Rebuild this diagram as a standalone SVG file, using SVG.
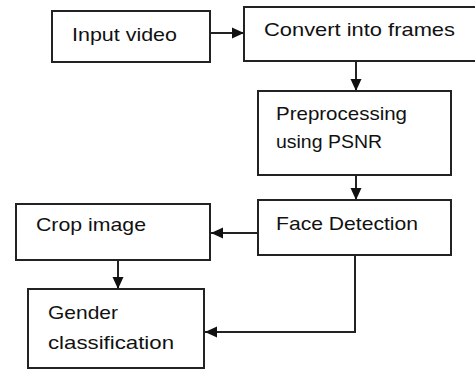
<svg xmlns="http://www.w3.org/2000/svg" width="475" height="369" viewBox="0 0 475 369">
<style>
.box{fill:#fff;stroke:#222;stroke-width:2}
.lbl{font-family:"Liberation Sans",Arial,sans-serif;font-size:19px;fill:#111}
.con{fill:none;stroke:#222;stroke-width:2}
</style>
<defs>
<marker id="ah" markerUnits="userSpaceOnUse" markerWidth="14" markerHeight="14" viewBox="0 0 14 14" refX="13" refY="7" orient="auto">
<path d="M1,1.5 L13,7 L1,12.5 Z" fill="#111"/>
</marker>
</defs>
<rect width="475" height="369" fill="#fff"/>
<g id="connectors">
<line class="con" x1="210" y1="33" x2="244" y2="33" marker-end="url(#ah)"/>
<line class="con" x1="356" y1="62" x2="356" y2="91" marker-end="url(#ah)"/>
<line class="con" x1="356" y1="175" x2="356" y2="200" marker-end="url(#ah)"/>
<line class="con" x1="258" y1="233" x2="211" y2="233" marker-end="url(#ah)"/>
<line class="con" x1="118" y1="260" x2="118" y2="289" marker-end="url(#ah)"/>
<polyline class="con" points="355,255 355,332 205,332" marker-end="url(#ah)"/>
</g>
<g id="input-video">
<rect class="box" x="52" y="11" width="158" height="51"/>
<text class="lbl" x="72" y="41" textLength="105" lengthAdjust="spacingAndGlyphs">Input video</text>
</g>
<g id="convert-frames">
<rect class="box" x="244" y="7" width="240" height="54"/>
<text class="lbl" x="264" y="36" textLength="191" lengthAdjust="spacingAndGlyphs">Convert into frames</text>
</g>
<g id="preprocessing">
<rect class="box" x="258" y="91" width="193" height="84"/>
<text class="lbl" x="276" y="120" textLength="131" lengthAdjust="spacingAndGlyphs">Preprocessing</text>
<text class="lbl" x="276" y="148" textLength="106" lengthAdjust="spacingAndGlyphs">using PSNR</text>
</g>
<g id="face-detection">
<rect class="box" x="258" y="200" width="193" height="55"/>
<text class="lbl" x="276" y="230" textLength="142" lengthAdjust="spacingAndGlyphs">Face Detection</text>
</g>
<g id="crop-image">
<rect class="box" x="16" y="204" width="194" height="56"/>
<text class="lbl" x="36" y="231" textLength="110" lengthAdjust="spacingAndGlyphs">Crop image</text>
</g>
<g id="gender-classification">
<rect class="box" x="28" y="289" width="176" height="79"/>
<text class="lbl" x="48" y="319" textLength="70" lengthAdjust="spacingAndGlyphs">Gender</text>
<text class="lbl" x="48" y="349" textLength="126" lengthAdjust="spacingAndGlyphs">classification</text>
</g>
</svg>
